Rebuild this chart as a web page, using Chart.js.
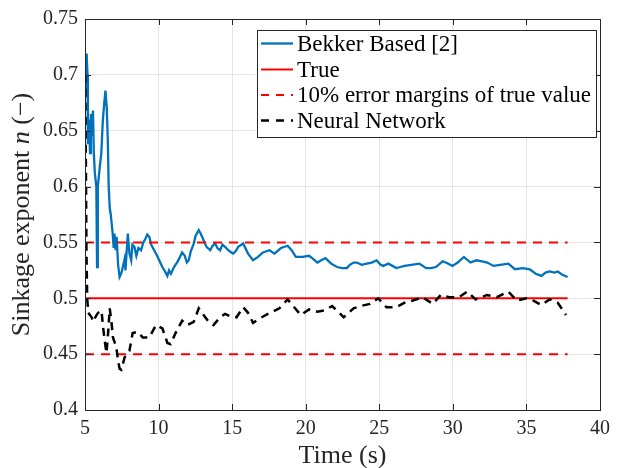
<!DOCTYPE html>
<html><head><meta charset="utf-8">
<script src="https://cdn.jsdelivr.net/npm/chart.js@4/dist/chart.umd.min.js"></script>
<style>html,body{margin:0;padding:0;background:#fff}#wrap{width:617px;height:468px}</style>
</head><body><div id="wrap"><canvas id="c" width="617" height="468"></canvas></div>
<script>
// ---- data ----
const bekkerTime = [5.05,5.11,5.17,5.2,5.27,5.34,5.40,5.47,5.54,5.6,5.67,5.77,5.82,5.87,6.0,6.11,6.21,6.31,6.39,6.48,6.55,6.61,6.68,6.75,6.88,6.95,7.0,7.08,7.15,7.25,7.35,7.46,7.57,7.69,7.75,7.91,8.02,8.14,8.22,8.36,8.49,8.63,8.81,8.96,9.1,9.23,9.37,9.5,9.7,9.9,10.04,10.26,10.44,10.6,10.71,10.84,11.05,11.25,11.38,11.6,11.78,11.92,12.05,12.19,12.39,12.52,12.73,12.86,13.06,13.26,13.51,13.67,13.85,14.0,14.18,14.34,14.52,14.74,14.94,15.08,15.28,15.41,15.75,16.08,16.42,16.76,17.09,17.54,17.88,18.32,18.77,19.04,19.33,19.78,20.23,20.52,20.79,21.06,21.34,21.73,22.13,22.47,22.8,23.0,23.25,23.47,23.81,24.15,24.48,24.82,25.09,25.27,25.62,26.16,26.43,26.72,27.17,27.73,28.18,28.51,28.85,29.3,29.52,29.97,30.33,30.75,31.2,31.6,31.98,32.34,32.76,33.21,33.77,34.22,34.76,35.23,35.63,36.02,36.3,36.57,36.91,37.13,37.45,37.8];
const bekkerValue = [0.680,0.719,0.700,0.638,0.660,0.630,0.665,0.645,0.668,0.630,0.612,0.600,0.528,0.600,0.617,0.630,0.659,0.675,0.686,0.670,0.641,0.600,0.581,0.575,0.558,0.545,0.558,0.543,0.555,0.530,0.519,0.522,0.528,0.535,0.525,0.558,0.540,0.534,0.548,0.546,0.538,0.545,0.543,0.550,0.553,0.557,0.555,0.548,0.543,0.538,0.534,0.528,0.524,0.520,0.525,0.522,0.528,0.532,0.535,0.541,0.538,0.532,0.534,0.542,0.549,0.556,0.561,0.558,0.552,0.546,0.543,0.547,0.549,0.545,0.543,0.548,0.546,0.543,0.541,0.540,0.543,0.546,0.549,0.540,0.534,0.537,0.541,0.543,0.540,0.545,0.547,0.543,0.537,0.537,0.538,0.535,0.532,0.534,0.536,0.531,0.528,0.527,0.527,0.530,0.532,0.532,0.530,0.531,0.532,0.534,0.530,0.529,0.531,0.527,0.528,0.529,0.530,0.531,0.527,0.527,0.528,0.533,0.532,0.529,0.532,0.537,0.532,0.534,0.533,0.532,0.529,0.530,0.531,0.526,0.527,0.526,0.522,0.520,0.523,0.524,0.523,0.524,0.521,0.519];
const nnTime = [5.02,5.06,5.10,5.15,5.22,5.45,5.56,5.74,5.89,6.12,6.23,6.34,6.46,6.57,6.68,6.79,6.90,7.13,7.24,7.35,7.47,7.69,8.02,8.24,8.58,8.92,9.37,9.82,10.26,10.60,10.82,11.16,11.60,11.94,12.39,12.73,13.06,13.40,13.73,14.18,14.52,14.86,15.30,15.75,16.08,16.42,16.87,17.43,18.21,18.77,19.22,19.66,20.23,20.79,21.24,21.79,22.13,22.58,23.25,23.70,24.37,24.93,25.49,26.16,26.72,27.28,27.95,28.63,29.18,29.74,30.41,30.98,31.54,32.32,32.99,33.77,34.34,35.01,35.45,36.02,36.57,37.13,37.69];
const nnValue = [0.700,0.620,0.540,0.500,0.487,0.483,0.479,0.484,0.487,0.489,0.474,0.462,0.451,0.469,0.491,0.480,0.465,0.456,0.445,0.437,0.436,0.447,0.453,0.469,0.470,0.465,0.465,0.476,0.473,0.460,0.459,0.469,0.480,0.476,0.479,0.491,0.485,0.479,0.476,0.483,0.486,0.484,0.483,0.492,0.487,0.478,0.482,0.486,0.491,0.499,0.492,0.485,0.490,0.488,0.489,0.493,0.489,0.483,0.491,0.493,0.495,0.500,0.492,0.492,0.496,0.498,0.501,0.495,0.503,0.501,0.501,0.506,0.499,0.503,0.501,0.506,0.498,0.500,0.498,0.494,0.499,0.496,0.485];
const refTime = [5, 37.8];
const trueValue = 0.5;
const marginValues = [0.55, 0.45];
const xTickValues = [5,10,15,20,25,30,35,40];
const yTickValues = [0.4,0.45,0.5,0.55,0.6,0.65,0.7,0.75];
const seriesLabels = ['Bekker Based [2]', 'True', '10% error margins of true value', 'Neural Network'];

// ---- build ----
const pts = (xs, ys) => xs.map((x, i) => ({x, y: ys[i]}));
const flat = (v) => refTime.map(x => ({x, y: v}));
const SERIF = '"Liberation Serif", "Times New Roman", serif';
const AXC = '#262626';

const datasets = [
  {label: seriesLabels[0], data: pts(bekkerTime, bekkerValue), borderColor: '#0072BD', borderWidth: 2.3, order: 4},
  {label: seriesLabels[1], data: flat(trueValue), borderColor: '#FF0000', borderWidth: 2, order: 3},
  {label: seriesLabels[2], data: flat(marginValues[0]), borderColor: '#FF0000', borderWidth: 2, borderDash: [9, 7], order: 2},
  {label: seriesLabels[2], data: flat(marginValues[1]), borderColor: '#FF0000', borderWidth: 2, borderDash: [9, 7], order: 2, hideInLegend: true},
  {label: seriesLabels[3], data: pts(nnTime, nnValue), borderColor: '#000000', borderWidth: 2.5, borderDash: [8, 6], order: 1}
];
datasets.forEach(d => { d.pointRadius = 0; d.tension = 0; d.fill = false; });

const frame = {
  id: 'frame',
  afterDatasetsDraw(chart) {
    const {ctx, chartArea: a, scales: {x, y}} = chart;
    ctx.save();
    ctx.strokeStyle = AXC; ctx.lineWidth = 1;
    const L = 6;
    ctx.beginPath();
    xTickValues.forEach(v => {
      const px = Math.round(x.getPixelForValue(v)) + 0.5;
      ctx.moveTo(px, a.bottom); ctx.lineTo(px, a.bottom - L);
      ctx.moveTo(px, a.top); ctx.lineTo(px, a.top + L);
    });
    yTickValues.forEach(v => {
      const py = Math.round(y.getPixelForValue(v)) + 0.5;
      ctx.moveTo(a.left, py); ctx.lineTo(a.left + L, py);
      ctx.moveTo(a.right, py); ctx.lineTo(a.right - L, py);
    });
    ctx.stroke();
    ctx.strokeRect(Math.round(a.left) + 0.5, Math.round(a.top) + 0.5, Math.round(a.right - a.left), Math.round(a.bottom - a.top));
    ctx.restore();
  },
  afterDraw(chart) {
    const {ctx, chartArea: a} = chart;
    ctx.save();
    // y-axis title with italic n
    const fs = 26;
    const parts = [['Sinkage exponent ', 'normal'], ['n', 'italic'], [' (\u2212)', 'normal']];
    let total = 0;
    const widths = parts.map(([t, st]) => { ctx.font = `${st} ${fs}px ${SERIF}`; const w = ctx.measureText(t).width; total += w; return w; });
    ctx.translate(22, (a.top + a.bottom) / 2);
    ctx.rotate(-Math.PI / 2);
    ctx.fillStyle = AXC; ctx.textBaseline = 'middle'; ctx.textAlign = 'left';
    let cx = -total / 2;
    parts.forEach(([t, st], i) => { ctx.font = `${st} ${fs}px ${SERIF}`; ctx.fillText(t, cx, 0); cx += widths[i]; });
    ctx.restore();

    // legend
    ctx.save();
    const bx = 257.5, by = 30.5, bw = 339, bh = 107;
    ctx.fillStyle = '#fff'; ctx.fillRect(bx, by, bw, bh);
    ctx.strokeStyle = AXC; ctx.lineWidth = 1; ctx.strokeRect(bx, by, bw, bh);
    const items = chart.data.datasets.filter(d => !d.hideInLegend);
    const rows = [43.5, 69.5, 95, 120.5];
    ctx.font = `23px ${SERIF}`; ctx.textBaseline = 'middle'; ctx.textAlign = 'left';
    items.forEach((d, i) => {
      const yy = rows[i];
      ctx.beginPath();
      ctx.setLineDash(d.borderDash ? [8, 7] : []);
      ctx.strokeStyle = d.borderColor; ctx.lineWidth = d.borderWidth;
      ctx.moveTo(261, yy); ctx.lineTo(293, yy); ctx.stroke();
      ctx.setLineDash([]);
      ctx.fillStyle = '#000';
      ctx.fillText(d.label, 297, yy + 1);
    });
    ctx.restore();
  }
};

new Chart(document.getElementById('c'), {
  type: 'line',
  data: {datasets},
  options: {
    responsive: false, animation: false, devicePixelRatio: 1,
    layout: {padding: {top: 18, right: 11, left: 0, bottom: 0}},
    plugins: {legend: {display: false}, tooltip: {enabled: false}},
    scales: {
      x: {
        type: 'linear', min: 5, max: 40,
        afterBuildTicks: s => { s.ticks = xTickValues.map(v => ({value: v})); },
        afterFit: s => { s.height = 58; },
        grid: {color: '#e4e4e4', lineWidth: 1, drawTicks: false},
        border: {display: false},
        ticks: {color: AXC, font: {family: SERIF, size: 20}, padding: 7, maxRotation: 0},
        title: {display: true, text: 'Time (s)', color: AXC, font: {family: SERIF, size: 26}, padding: {top: 0, bottom: -4}}
      },
      y: {
        type: 'linear', min: 0.4, max: 0.75,
        afterBuildTicks: s => { s.ticks = yTickValues.map(v => ({value: v})); },
        afterFit: s => { s.width = 85; },
        grid: {color: '#e4e4e4', lineWidth: 1, drawTicks: false},
        border: {display: false},
        ticks: {color: AXC, font: {family: SERIF, size: 20}, padding: 7, callback: v => String(Number(v.toFixed(2)))}
      }
    }
  },
  plugins: [frame]
});
</script></body></html>
